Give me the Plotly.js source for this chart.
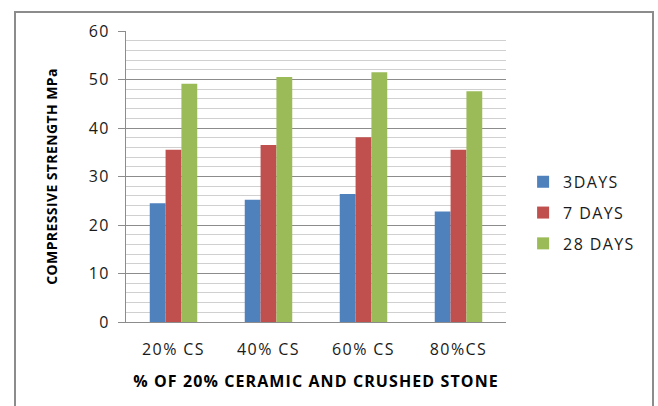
<!DOCTYPE html>
<html>
<head>
<meta charset="utf-8">
<script src="https://cdn.plot.ly/plotly-3.0.1.min.js"></script>
<style>
html,body{margin:0;padding:0;background:#fff;overflow:hidden;}
#wrap{position:relative;width:658px;height:406px;}
#chart{position:absolute;left:0;top:0;width:658px;height:406px;}
#frame{position:absolute;left:14px;top:11px;width:636px;height:420px;border:2px solid #8c8c8c;pointer-events:none;}
</style>
</head>
<body>
<div id="wrap"><div id="chart"></div><div id="frame"></div></div>
<script>
const categories = ["20% CS", "40% CS", "60% CS", "80%CS"];
const days3 = [24.5, 25.2, 26.4, 22.8];
const days7 = [35.5, 36.5, 38.1, 35.5];
const days28 = [49.1, 50.5, 51.5, 47.6];
const seriesNames = ["3DAYS", "7 DAYS", "28 DAYS"];
const seriesColors = ["#4F81BD", "#C0504D", "#9BBB59"];
const seriesValues = [days3, days7, days28];

const font = "'Open Sans', 'Liberation Sans', sans-serif";

const traces = seriesValues.map((vals, i) => ({
  type: "bar",
  name: seriesNames[i],
  x: categories,
  y: vals,
  legendgroup: "g" + i,
  marker: {color: seriesColors[i], line: {width: 0}}
}));

const layout = {
  width: 658, height: 406,
  margin: {l: 126, r: 152, t: 31, b: 84},
  paper_bgcolor: "#ffffff",
  plot_bgcolor: "#ffffff",
  barmode: "group",
  bargap: 0.5,
  bargroupgap: 0,
  font: {family: font, color: "#1a1a1a", size: 16},
  showlegend: true,
  legend: {
    x: 1.045, xanchor: "left",
    y: 0.54, yanchor: "top",
    traceorder: "grouped",
    tracegroupgap: 7,
    font: {family: font, size: 16, color: "#1a1a1a"},
    bgcolor: "rgba(0,0,0,0)"
  },
  xaxis: {
    type: "category",
    showgrid: false,
    showline: true,
    linecolor: "#8c8c8c",
    linewidth: 1,
    ticks: "",
    ticklabelstandoff: 13,
    tickfont: {family: font, size: 16, color: "#1a1a1a"},
    title: {text: "% OF 20% CERAMIC AND CRUSHED STONE", font: {family: font, size: 16, weight: "bold", color: "#000"}, standoff: 16},
    zeroline: false
  },
  yaxis: {
    range: [0, 60],
    dtick: 10,
    showgrid: true,
    gridcolor: "#8c8c8c",
    gridwidth: 1,
    minor: {dtick: 2, showgrid: true, gridcolor: "#d0d0d0", gridwidth: 1},
    showline: true,
    linecolor: "#8c8c8c",
    linewidth: 1,
    ticks: "outside",
    ticklen: 7,
    tickcolor: "#8c8c8c",
    ticklabelstandoff: 5,
    tickfont: {family: font, size: 16, color: "#1a1a1a"},
    title: {text: "COMPRESSIVE STRENGTH MPa", font: {family: font, size: 14, weight: "bold", color: "#000"}, standoff: 30},
    zeroline: false
  }
};

Plotly.newPlot("chart", traces, layout, {staticPlot: true, displayModeBar: false}).then(gd => {
  const setLS = (sel, v) => gd.querySelectorAll(sel).forEach(t => { t.style.letterSpacing = v; });
  setLS(".xtick text", "1.4px");
  setLS(".ytick text", "1.4px");
  setLS(".legendtext", "1.4px");
  setLS(".xtitle", "1.1px");
  setLS(".ytitle", "0.4px");
  gd.querySelectorAll(".legend [clip-path], .legend[clip-path]").forEach(e => e.removeAttribute("clip-path"));
});
</script>
</body>
</html>
